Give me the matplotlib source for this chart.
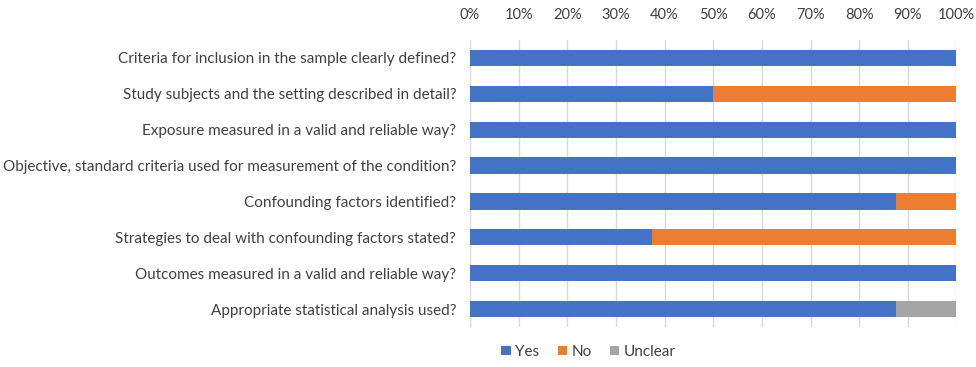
import numpy as np
import matplotlib
matplotlib.use('Agg')
import matplotlib.pyplot as plt

plt.rcParams['font.family'] = ['Lato', 'DejaVu Sans']

# Данные: доля ответов по каждому вопросу (%)
questions = [
    'Criteria for inclusion in the sample clearly defined?',
    'Study subjects and the setting described in detail?',
    'Exposure measured in a valid and reliable way?',
    'Objective, standard criteria used for measurement of the condition?',
    'Confounding factors identified?',
    'Strategies to deal with confounding factors stated?',
    'Outcomes measured in a valid and reliable way?',
    'Appropriate statistical analysis used?',
]
yes = [100, 50, 100, 100, 87.5, 37.5, 100, 87.5]
no = [0, 50, 0, 0, 12.5, 62.5, 0, 0]
unclear = [0, 0, 0, 0, 0, 0, 0, 12.5]

colors = {'Yes': '#4472C4', 'No': '#ED7D31', 'Unclear': '#A5A5A5'}

fig = plt.figure(figsize=(9.76, 3.67), dpi=100)
ax = fig.add_axes([0.4816, 0.109, 0.4984, 0.782])

y = np.arange(len(questions))
yes_a = np.array(yes)
no_a = np.array(no)
unc_a = np.array(unclear)

ax.barh(y, yes_a, height=0.45, color=colors['Yes'], label='Yes', zorder=3)
ax.barh(y, no_a, left=yes_a, height=0.45, color=colors['No'], label='No', zorder=3)
ax.barh(y, unc_a, left=yes_a + no_a, height=0.45, color=colors['Unclear'], label='Unclear', zorder=3)

ax.set_xlim(0, 100)
ax.set_ylim(len(questions) - 0.5, -0.5)
ax.set_yticks(y)
ax.set_yticklabels(questions, fontsize=11, color='#404040')
ax.set_xticks(np.arange(0, 101, 10))
ax.set_xticklabels([f'{v}%' for v in range(0, 101, 10)], fontsize=10.5, color='#404040')
ax.xaxis.tick_top()
ax.tick_params(length=0, pad=10)
ax.tick_params(axis='x', pad=13)
ax.grid(axis='x', color='#D9D9D9', linewidth=1, zorder=0)
for s in ax.spines.values():
    s.set_visible(False)

fig.legend(loc='lower center', bbox_to_anchor=(0.603, -0.015), ncol=3, frameon=False,
           fontsize=11, handlelength=0.6, handleheight=0.6, handletextpad=0.3,
           columnspacing=1.2, labelcolor='#404040')

plt.savefig('out.png', dpi=100)
